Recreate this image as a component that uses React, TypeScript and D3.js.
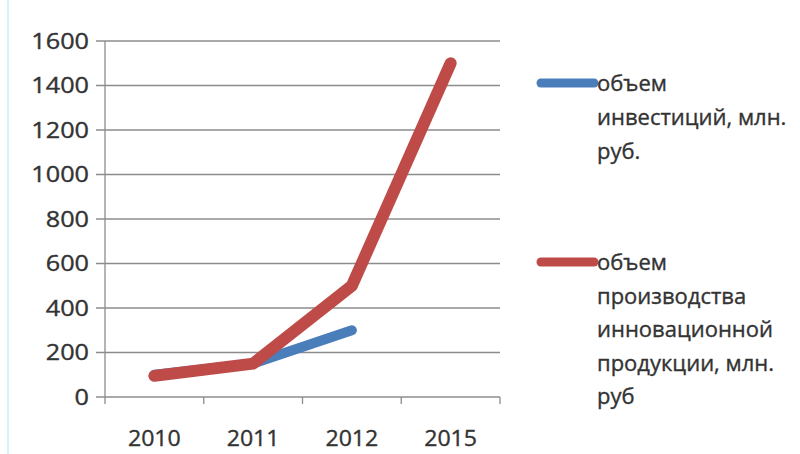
import * as d3 from "d3";

const years = ["2010", "2011", "2012", "2015"];
const investment = [100, 150, 300]; // 2010-2012 only
const production = [95, 150, 500, 1500];
const yTicks = [0, 200, 400, 600, 800, 1000, 1200, 1400, 1600];
const legendInvest = ["объем", "инвестиций, млн.", "руб."];
const legendProd = ["объем", "производства", "инновационной", "продукции, млн.", "руб"];

const BLUE = "#4a7ebb";
const RED = "#be4b48";
const TEXT = "#333333";
const GRID = "#8c8c8c";

export default function App() {
  const width = 800;
  const height = 454;
  const plot = {left: 105, right: 500, top: 41, bottom: 397};

  const x = d3.scaleBand().domain(years).range([plot.left, plot.right]);
  const y = d3.scaleLinear().domain([0, 1600]).range([plot.bottom, plot.top]);
  const cx = (yr: string) => (x(yr) as number) + x.bandwidth() / 2;

  const line = d3.line<[string, number]>()
    .x(d => cx(d[0]))
    .y(d => y(d[1]));

  const investPts = investment.map((v, i) => [years[i], v] as [string, number]);
  const prodPts = production.map((v, i) => [years[i], v] as [string, number]);

  const font = "'Open Sans', 'DejaVu Sans', sans-serif";
  // slight stroke to mimic the heavier, soft text in the reference
  const txt = {fontFamily: font, fill: TEXT, stroke: TEXT, strokeWidth: 0.35};

  return (
    <svg width={width} height={height}
         style={{position: "absolute", left: 0, top: 0, background: "#fff"}}>
      <line x1={8} x2={8} y1={0} y2={454} stroke="#d8f2f6" strokeWidth={2} />

      {/* gridlines + y ticks */}
      {yTicks.map(t => (
        <line key={t} x1={plot.left - 9} x2={plot.right} y1={y(t)} y2={y(t)}
              stroke={GRID} strokeWidth={1.3} />
      ))}
      <line x1={plot.left} x2={plot.left} y1={plot.top} y2={plot.bottom + 7}
            stroke={GRID} strokeWidth={1.3} />
      {years.map(yr => (
        <line key={yr} x1={(x(yr) as number) + x.bandwidth()} x2={(x(yr) as number) + x.bandwidth()}
              y1={plot.bottom} y2={plot.bottom + 7} stroke={GRID} strokeWidth={1.3} />
      ))}

      {yTicks.map(t => (
        <text key={t} transform={`translate(${plot.left - 16},${y(t) + 7.5}) scale(1.2,1)`}
              textAnchor="end" fontSize={21} {...txt}>{t}</text>
      ))}
      {years.map(yr => (
        <text key={yr} transform={`translate(${cx(yr)},${plot.bottom + 49}) scale(1.1,1)`}
              textAnchor="middle" fontSize={21} {...txt}>{yr}</text>
      ))}

      <path d={line(investPts) ?? ""} fill="none" stroke={BLUE} strokeWidth={10}
            strokeLinecap="round" strokeLinejoin="round" />
      <path d={line(prodPts) ?? ""} fill="none" stroke={RED} strokeWidth={12}
            strokeLinecap="round" strokeLinejoin="round" />

      {/* legend */}
      <line x1={541} x2={594} y1={83} y2={83} stroke={BLUE} strokeWidth={9} strokeLinecap="round" />
      {legendInvest.map((s, i) => (
        <text key={s + i} x={597} y={91 + i * 34} fontSize={22} {...txt}>{s}</text>
      ))}
      <line x1={541} x2={594} y1={262} y2={262} stroke={RED} strokeWidth={9} strokeLinecap="round" />
      {legendProd.map((s, i) => (
        <text key={s + i} x={597} y={270 + i * 33.5} fontSize={22} {...txt}>{s}</text>
      ))}
    </svg>
  );
}
